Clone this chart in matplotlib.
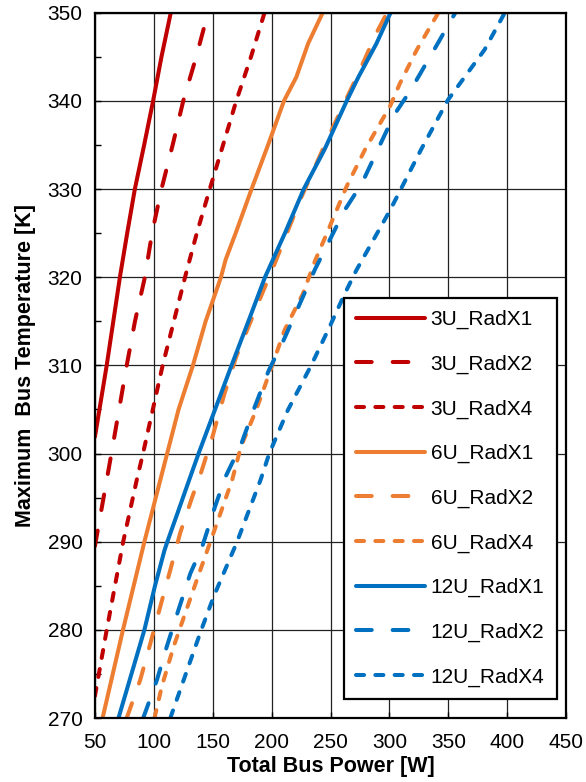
import numpy as np
import matplotlib.pyplot as plt

plt.rcParams['font.family'] = ['Liberation Sans', 'DejaVu Sans']

colors = {"red": '#C00000', "orange": '#ED7D31', "blue": '#0070C0'}

# 3U
t_3u_x1 = [301.9, 310, 320, 325, 330, 335, 340, 345, 350]
w_3u_x1 = [50, 60, 71.2, 77.4, 83.9, 91.8, 99.4, 106.5, 114.4]
t_3u_x2 = [289.5, 300, 310, 315, 320, 325, 330, 335, 340, 345, 350]
w_3u_x2 = [50, 64, 77, 84, 92.4, 98.5, 106.5, 116, 125, 136, 146]
t_3u_x4 = [272.5, 280, 290, 297, 300, 310, 315, 320, 325, 330, 335, 340, 345, 350]
w_3u_x4 = [50, 60, 74, 85.5, 90.8, 107.5, 117, 126.5, 136.5, 147.5, 158.8, 170, 182.5, 194]

# 6U
t_6u_x1 = [270, 280, 290, 300, 305, 310, 315, 320, 322, 325, 330, 335, 340, 342.7, 346.5, 350]
w_6u_x1 = [56.5, 73.8, 92, 111.3, 121, 133.2, 144, 157, 161, 169.5, 183, 197, 210.5, 221, 231, 243.4]
t_6u_x2 = [270, 274.3, 277.7, 282.6, 286.8, 291, 295, 297.8, 302, 306.8, 311, 318, 321, 325, 329, 335.5, 343.5, 347.7, 350]
w_6u_x2 = [77, 88.4, 95.5, 105.4, 114, 122.4, 132.4, 140, 150, 160, 170, 191.5, 201, 213, 225, 246.8, 275, 289, 298]
t_6u_x4 = [270, 273.6, 278.1, 281.9, 285.7, 290, 293.2, 297, 300.8, 304.9, 310.2, 314, 318.1, 321.9, 325, 330.3, 334.5, 339.4, 342, 345.8, 350]
w_6u_x4 = [100.6, 106.8, 116.8, 126.7, 136.6, 148, 156.5, 166.5, 174, 186.8, 201, 211, 226.5, 237, 247, 263.7, 279.4, 300.6, 309, 323.3, 341.6]

# 12U
t_12u_x1 = [270, 275, 280, 285, 289, 290, 293.2, 297, 300, 305, 310, 315, 320, 325, 330, 334.5, 340, 342.7, 346.5, 350]
w_12u_x1 = [70, 81, 92, 101, 109, 111.5, 120, 130, 138, 152, 166, 180.3, 194.4, 211.3, 227.3, 245, 263.8, 273.7, 289, 301]
t_12u_x2 = [270, 274.3, 278.1, 282.3, 286.4, 289.4, 294, 297.4, 301, 305.2, 309.4, 312.5, 318.5, 320.8, 327.6, 330.6, 335, 338.4, 341.2, 346.5, 350]
w_12u_x2 = [91, 102.6, 111, 121, 131, 141, 152, 161, 174, 185.4, 197.5, 209, 229, 236.5, 262, 276.5, 292, 304, 318, 341, 356]
t_12u_x4 = [270, 274.3, 280, 283.8, 290, 297, 300, 304.9, 310, 314.3, 318.1, 320.8, 327.6, 334.5, 340.1, 345.8, 350]
w_12u_x4 = [114, 125.3, 140.3, 150.9, 170.7, 190.6, 198, 213.7, 233.6, 249, 262, 272, 300.6, 327, 349.7, 380.8, 398]

long_dash = (0, (3.9, 5.2))
short_dash = (0, (2.0, 2.8))

series = [
    ("3U_RadX1", w_3u_x1, t_3u_x1, colors["red"], '-'),
    ("3U_RadX2", w_3u_x2, t_3u_x2, colors["red"], long_dash),
    ("3U_RadX4", w_3u_x4, t_3u_x4, colors["red"], short_dash),
    ("6U_RadX1", w_6u_x1, t_6u_x1, colors["orange"], '-'),
    ("6U_RadX2", w_6u_x2, t_6u_x2, colors["orange"], long_dash),
    ("6U_RadX4", w_6u_x4, t_6u_x4, colors["orange"], short_dash),
    ("12U_RadX1", w_12u_x1, t_12u_x1, colors["blue"], '-'),
    ("12U_RadX2", w_12u_x2, t_12u_x2, colors["blue"], long_dash),
    ("12U_RadX4", w_12u_x4, t_12u_x4, colors["blue"], short_dash),
]

fig = plt.figure(figsize=(5.86, 7.82), dpi=100)
ax = fig.add_axes([0.162, 0.0818, 0.804, 0.902])

for name, w, t, c, ls in series:
    ax.plot(w, t, color=c, linestyle=ls, linewidth=2.9, label=name,
            dash_capstyle='round', solid_capstyle='round', solid_joinstyle='round')

ax.set_xlim(50, 450)
ax.set_ylim(270, 350)
ax.set_xticks(np.arange(50, 451, 50))
ax.set_yticks(np.arange(270, 351, 10))
ax.set_yticks(np.arange(275, 350, 10), minor=True)
ax.grid(True, which='major', color='#222222', linewidth=0.9)
ax.set_axisbelow(True)
for s in ax.spines.values():
    s.set_linewidth(1.6)
ax.tick_params(axis='both', which='major', direction='in', length=4, width=1,
               labelsize=15)
ax.tick_params(axis='x', which='major', pad=11)
ax.tick_params(axis='y', which='major', pad=9)
ax.tick_params(axis='y', which='minor', direction='in', length=4, width=1)
ax.tick_params(axis='x', which='minor', bottom=False)

ax.set_xlabel("Total Bus Power [W]", fontsize=15.5, fontweight='bold', labelpad=3)
ax.set_ylabel("Maximum  Bus Temperature [K]", fontsize=15.5, fontweight='bold', labelpad=8)

leg = ax.legend(loc='upper left', bbox_to_anchor=(0.5287, 0.5955), borderaxespad=0,
                fontsize=15, handlelength=3.3, handletextpad=0.28, labelspacing=1.22,
                borderpad=0.58, fancybox=False, framealpha=1, edgecolor='black')
leg.get_frame().set_linewidth(1.6)

plt.savefig("out.png", dpi=100)
